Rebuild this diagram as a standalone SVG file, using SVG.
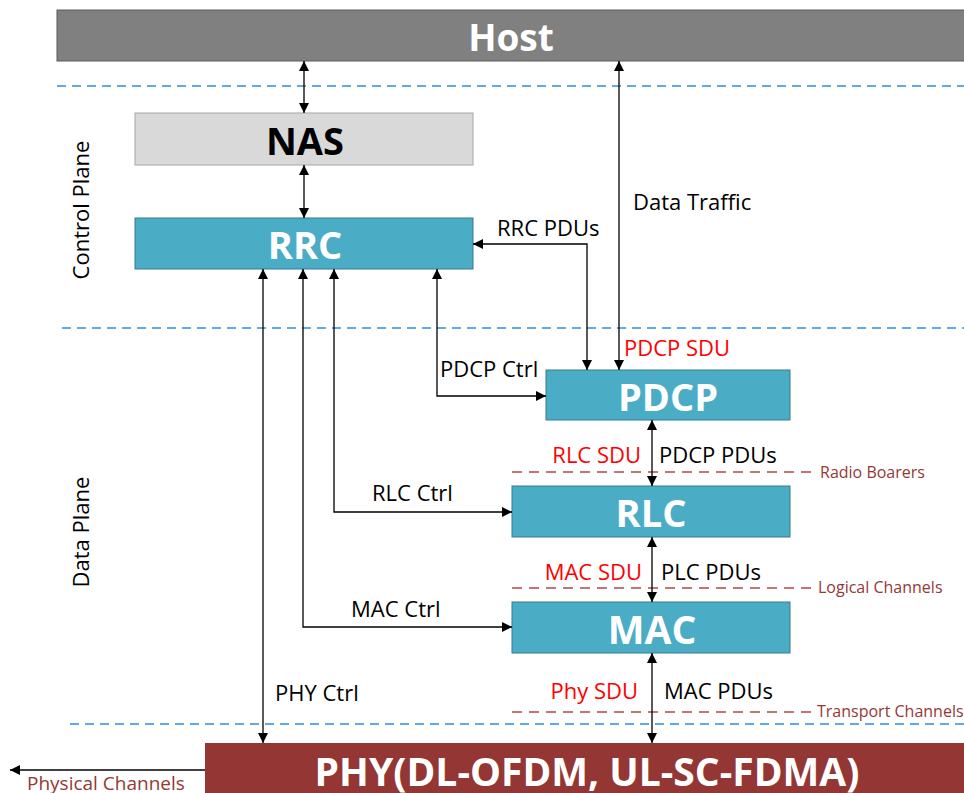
<svg xmlns="http://www.w3.org/2000/svg" width="964" height="793" viewBox="0 0 964 793">
  <style>
    .title { font-family: "Open Sans", "Liberation Sans", sans-serif; font-weight: bold; fill: #fff; text-anchor: middle; dominant-baseline: central; }
    .lbl { font-family: "Open Sans", "Liberation Sans", sans-serif; font-size: 22px; fill: #000; }
    .red { font-family: "Open Sans", "Liberation Sans", sans-serif; font-size: 22px; fill: #ff0000; text-anchor: end; }
    .ch { font-family: "Open Sans", "Liberation Sans", sans-serif; font-size: 16px; fill: #953735; }
    .conn { fill: none; stroke: #000; stroke-width: 1.3; }
    .plane { stroke: #2e8ddf; stroke-width: 1.5; stroke-dasharray: 9 6; fill: none; }
    .chan { stroke: #b04a48; stroke-width: 1.3; stroke-dasharray: 10 7; fill: none; }
    .blue { fill: #4bacc6; stroke: #357d91; stroke-width: 1; }
  </style>
  <defs>
    <marker id="ah" viewBox="0 0 10 10" refX="10" refY="5" markerWidth="10" markerHeight="10" markerUnits="userSpaceOnUse" orient="auto-start-reverse">
      <path d="M0,0 L10,5 L0,10 z" fill="#000"/>
    </marker>
  </defs>

  <rect width="964" height="793" fill="#fff"/>

  <!-- plane separators and channel boundaries -->
  <g id="separators">
    <line class="plane" x1="57" y1="86" x2="964" y2="86"/>
    <line class="plane" x1="62" y1="328" x2="964" y2="328"/>
    <line class="plane" x1="70" y1="724" x2="964" y2="724"/>
    <line class="chan" x1="512" y1="472" x2="814" y2="472"/>
    <line class="chan" x1="512" y1="588" x2="814" y2="588"/>
    <line class="chan" x1="512" y1="712" x2="814" y2="712"/>
  </g>

  <text class="lbl" transform="translate(89,210) rotate(-90)" text-anchor="middle">Control Plane</text>
  <text class="lbl" transform="translate(89,532) rotate(-90)" text-anchor="middle">Data Plane</text>

  <g id="host">
    <rect x="57" y="10" width="910" height="51" fill="#808080" stroke="#5a5a5a" stroke-width="1"/>
    <text class="title" x="511" y="36" font-size="37">Host</text>
  </g>
  <g id="nas">
    <rect x="135" y="113" width="338" height="52" fill="#d9d9d9" stroke="#a6a6a6" stroke-width="1"/>
    <text class="title" x="305" y="140" font-size="38" style="fill:#000">NAS</text>
  </g>
  <g id="rrc">
    <rect class="blue" x="135" y="218" width="338" height="51"/>
    <text class="title" x="305" y="244" font-size="38">RRC</text>
  </g>
  <g id="pdcp">
    <rect class="blue" x="546" y="370" width="244" height="50"/>
    <text class="title" x="668" y="396" font-size="38">PDCP</text>
  </g>
  <g id="rlc">
    <rect class="blue" x="512" y="486" width="278" height="51"/>
    <text class="title" x="651" y="512" font-size="38">RLC</text>
  </g>
  <g id="mac">
    <rect class="blue" x="512" y="602" width="278" height="51"/>
    <text class="title" x="652" y="628" font-size="39">MAC</text>
  </g>
  <g id="phy">
    <rect x="205" y="743" width="762" height="52" fill="#943634"/>
    <text class="title" x="587" y="770" font-size="39">PHY(DL-OFDM, UL-SC-FDMA)</text>
  </g>

  <g id="connectors">
    <line class="conn" x1="304" y1="61" x2="304" y2="113" marker-start="url(#ah)" marker-end="url(#ah)"/>
    <line class="conn" x1="304" y1="165" x2="304" y2="218" marker-start="url(#ah)" marker-end="url(#ah)"/>
    <line class="conn" x1="619" y1="61" x2="619" y2="370" marker-start="url(#ah)" marker-end="url(#ah)"/>
    <polyline class="conn" points="473,244 587,244 587,370" marker-start="url(#ah)" marker-end="url(#ah)"/>
    <polyline class="conn" points="437,269 437,396 546,396" marker-start="url(#ah)" marker-end="url(#ah)"/>
    <polyline class="conn" points="334,269 334,512 512,512" marker-start="url(#ah)" marker-end="url(#ah)"/>
    <polyline class="conn" points="303,269 303,627 512,627" marker-start="url(#ah)" marker-end="url(#ah)"/>
    <line class="conn" x1="263" y1="269" x2="263" y2="743" marker-start="url(#ah)" marker-end="url(#ah)"/>
    <line class="conn" x1="652" y1="420" x2="652" y2="486" marker-start="url(#ah)" marker-end="url(#ah)"/>
    <line class="conn" x1="652" y1="537" x2="652" y2="602" marker-start="url(#ah)" marker-end="url(#ah)"/>
    <line class="conn" x1="652" y1="653" x2="652" y2="743" marker-start="url(#ah)" marker-end="url(#ah)"/>
    <line class="conn" x1="205" y1="770" x2="10" y2="770" marker-end="url(#ah)"/>
  </g>

  <g id="labels">
    <text class="lbl" x="633" y="210">Data Traffic</text>
    <text class="lbl" x="497" y="236">RRC PDUs</text>
    <text class="lbl" x="440" y="377">PDCP Ctrl</text>
    <text class="lbl" x="372" y="501">RLC Ctrl</text>
    <text class="lbl" x="351" y="617">MAC Ctrl</text>
    <text class="lbl" x="275" y="701">PHY Ctrl</text>
    <text class="red" x="624" y="356" style="text-anchor:start">PDCP SDU</text>
    <text class="red" x="641" y="463">RLC SDU</text>
    <text class="lbl" x="659" y="463">PDCP PDUs</text>
    <text class="red" x="642" y="580">MAC SDU</text>
    <text class="lbl" x="661" y="580">PLC PDUs</text>
    <text class="red" x="638" y="699">Phy SDU</text>
    <text class="lbl" x="664" y="699">MAC PDUs</text>
    <text class="ch" x="820" y="478">Radio Boarers</text>
    <text class="ch" x="818" y="593">Logical Channels</text>
    <text class="ch" x="817" y="717">Transport Channels</text>
    <text class="ch" x="27" y="790" style="font-size:19px">Physical Channels</text>
  </g>
</svg>
